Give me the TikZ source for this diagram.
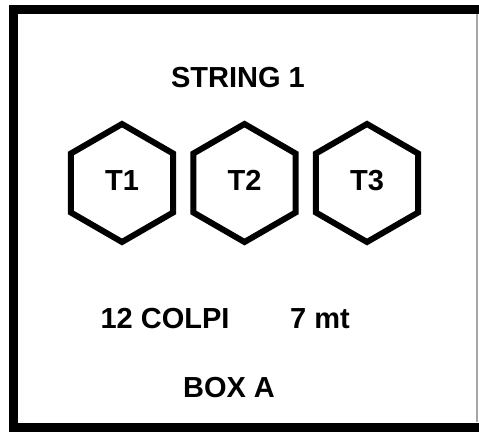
\documentclass[tikz,border=0pt]{standalone}
\usepackage{fontspec}
\setmainfont{Liberation Sans}
\usepackage{tikz}
\usetikzlibrary{shapes.geometric,positioning}

\begin{document}
\begin{tikzpicture}[x=1pt, y=-1pt, node distance = {122.5pt},
	hex/.style = {draw, regular polygon, regular polygon sides=6, shape border rotate=30,
		minimum size=118pt, inner sep=0pt, line width=6pt, text height=20pt, text depth=6pt,
		font=\bfseries\fontsize{29}{29}\selectfont},
	lbl/.style = {anchor=base, inner sep=0pt, font=\bfseries\fontsize{29}{29}\selectfont}]
	\useasboundingbox (0,0) rectangle (479,433);
	% box
	\draw[line width=9pt, line join=miter] (485,9.5) -| (13.5,427) -- (485,427);
	\draw[black!35, line width=1.2pt] (477,14) -- (477,422);
	% strings
	\node[lbl] (title) at (238,88) {STRING 1};
	\node[hex] (1) at (122,183) {T1};
	\node[hex] (2) [right of=1] {T2};
	\node[hex] (3) [right of=2] {T3};
	\node[lbl] (colpi) at (165,328) {12 COLPI};
	\node[lbl] (mt) at (320,328) {7 mt};
	\node[lbl] (box) at (229,397) {BOX A};
\end{tikzpicture}
\end{document}
